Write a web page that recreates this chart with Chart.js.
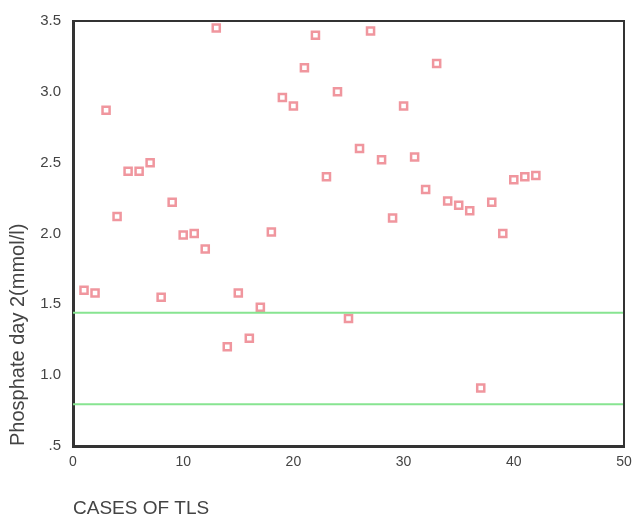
<!DOCTYPE html>
<html>
<head>
<meta charset="utf-8">
<script src="https://cdn.jsdelivr.net/npm/chart.js@4.4.1/dist/chart.umd.min.js"></script>
<style>
  body { margin: 0; background: #fff; }
</style>
</head>
<body>
<canvas id="tlsChart" width="633" height="520"></canvas>
<script>
// Case numbers (x) and phosphate on day 2 (y, mmol/l)
const cases = [1, 2, 3, 4, 5, 6, 7, 8, 9, 10, 11, 12, 13, 14, 15, 16, 17, 18, 19, 20, 21,
               22, 23, 24, 25, 26, 27, 28, 29, 30, 31, 32, 33, 34, 35, 36, 37, 38, 39, 40, 41, 42];
const phosphate = [1.60, 1.58, 2.87, 2.12, 2.44, 2.44, 2.50, 1.55, 2.22, 1.99, 2.00, 1.89, 3.45, 1.20,
                   1.58, 1.26, 1.48, 2.01, 2.96, 2.90, 3.17, 3.40, 2.40, 3.00, 1.40, 2.60, 3.43, 2.52,
                   2.11, 2.90, 2.54, 2.31, 3.20, 2.23, 2.20, 2.16, 0.91, 2.22, 2.00, 2.38, 2.40, 2.41];

// Reference range lines
const refX = [0, 50];
const refUpper = [1.44, 1.44];
const refLower = [0.795, 0.795];

const yTicks = [0.5, 1.0, 1.5, 2.0, 2.5, 3.0, 3.5];
const xTicks = [0, 10, 20, 30, 40, 50];

const toPoints = (xs, ys) => xs.map((x, i) => ({ x: x, y: ys[i] }));

// top and right edges of the frame
const framePlugin = {
    id: "frame",
    afterDraw(chart) {
        const { ctx, chartArea } = chart;
        ctx.save();
        ctx.strokeStyle = "#333";
        ctx.lineWidth = 2;
        ctx.beginPath();
        ctx.moveTo(chartArea.left, chartArea.top);
        ctx.lineTo(chartArea.right, chartArea.top);
        ctx.lineTo(chartArea.right, chartArea.bottom);
        ctx.stroke();
        ctx.restore();
    }
};

const greenLine = {
    type: "line",
    borderColor: "rgb(135, 228, 145)",
    borderWidth: 2,
    pointRadius: 0,
    fill: false
};

const ctx = document.getElementById("tlsChart").getContext("2d");
new Chart(ctx, {
    type: "scatter",
    data: {
        datasets: [
            {
                ...greenLine,
                data: toPoints(refX, refUpper)
            },
            {
                ...greenLine,
                data: toPoints(refX, refLower)
            },
            {
                data: toPoints(cases, phosphate),
                pointStyle: "rect",
                pointRadius: 5,
                borderWidth: 2.5,
                borderColor: "rgb(240, 150, 158)",
                backgroundColor: "#fff"
            }
        ]
    },
    options: {
        responsive: false,
        animation: false,
        layout: { padding: { top: 19, right: 9, left: 0, bottom: 0 } },
        plugins: {
            legend: { display: false },
            tooltip: { enabled: false }
        },
        scales: {
            x: {
                type: "linear",
                min: 0,
                max: 50,
                afterFit(scale) {
                    scale.height = 74;
                    scale.paddingRight = 0;
                    scale.paddingLeft = 0;
                },
                afterBuildTicks(scale) { scale.ticks = xTicks.map(v => ({ value: v })); },
                grid: { display: false, drawTicks: false },
                border: { display: true, color: "#333", width: 3 },
                ticks: {
                    padding: 8,
                    color: "#444",
                    font: { family: "Liberation Sans", size: 14 }
                },
                title: {
                    display: true,
                    text: "CASES OF TLS",
                    align: "start",
                    color: "#444",
                    padding: { top: 0, bottom: 0 },
                    font: { family: "Liberation Sans", size: 19 }
                }
            },
            y: {
                type: "linear",
                min: 0.5,
                max: 3.5,
                afterFit(scale) { scale.width = 73; },
                afterBuildTicks(scale) { scale.ticks = yTicks.map(v => ({ value: v })); },
                grid: { display: false, drawTicks: false },
                border: { display: true, color: "#333", width: 3 },
                ticks: {
                    padding: 12,
                    color: "#444",
                    font: { family: "Liberation Sans", size: 15 },
                    callback: v => (v === 0.5 ? ".5" : v.toFixed(1))
                },
                title: {
                    display: true,
                    text: "Phosphate day 2(mmol/l)",
                    align: "start",
                    color: "#444",
                    padding: { top: 6, bottom: 0 },
                    font: { family: "Liberation Sans", size: 20 }
                }
            }
        }
    },
    plugins: [framePlugin]
});
</script>
</body>
</html>
